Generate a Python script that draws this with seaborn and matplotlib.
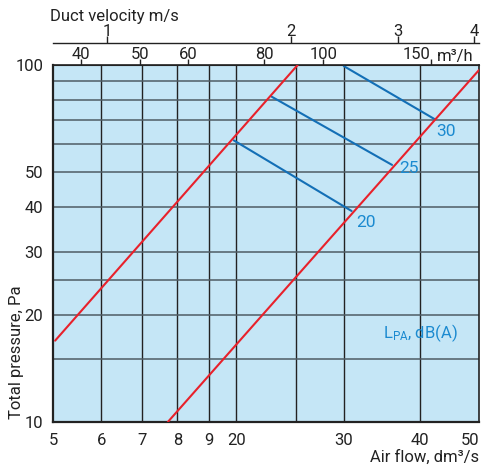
import pandas as pd
import seaborn as sns
import matplotlib
import matplotlib.pyplot as plt
from matplotlib.ticker import NullLocator

# Axis ticks and grid (flow in dm3/s, pressure in Pa)
flow_ticks = [10, 12, 14, 16, 18, 20, 30, 40, 50]
flow_labels = ['5', '6', '7', '8', '9', '20', '30', '40', '50']
pressure_ticks = [10, 20, 30, 40, 50, 100]
pressure_labels = ['10', '20', '30', '40', '50', '100']
flow_grid = [12, 14, 16, 18, 20, 25, 30, 40]
pressure_grid = [15, 20, 25, 30, 40, 50, 60, 70, 80, 90]
m3h_ticks = [40, 50, 60, 80, 100, 150]
velocity_ticks = [1, 2, 3, 4]

# System curves (red)
curve_a_flow = [10.08, 25.2]
curve_a_pressure = [16.9, 100]
curve_b_flow = [15.43, 50]
curve_b_pressure = [10, 96.8]

# Sound level lines LpA (blue)
lpa_levels = ['20', '25', '30']
lpa_flow = [[19.8, 30.9], [22.85, 36.0], [30.0, 42.3]]
lpa_pressure = [[61.5, 39.0], [81.5, 52.5], [99.3, 70.5]]

# Plot style
sns.set_style('white')
plt.rcParams['font.family'] = ['Roboto', 'DejaVu Sans']
plt.rcParams['font.size'] = 12
plt.rcParams['mathtext.fontset'] = 'custom'
plt.rcParams['mathtext.rm'] = 'Roboto'

red = '#e8212b'
blue = '#136fb6'
blue_text = '#1b8ad0'
dark = '#222222'

fig = plt.figure(figsize=(4.85, 4.69), dpi=100)
fig.patch.set_facecolor('white')
ax = fig.add_axes([0.1093, 0.1002, 0.8783, 0.7612])
ax.set_facecolor('#c5e6f6')
ax.set_xscale('log')
ax.set_yscale('log')
ax.set_xlim(10, 50)
ax.set_ylim(10, 100)

# Grid
for q in flow_grid:
    ax.axvline(q, color=dark, lw=1.0, zorder=1)
for p in pressure_grid:
    ax.axhline(p, color='#4f5c64', lw=1.1, zorder=1)

# Red system curves
df_a = pd.DataFrame({'flow': curve_a_flow, 'pressure': curve_a_pressure})
df_b = pd.DataFrame({'flow': curve_b_flow, 'pressure': curve_b_pressure})
sns.lineplot(data=df_a, x='flow', y='pressure', color=red, lw=1.5, ax=ax, zorder=3)
sns.lineplot(data=df_b, x='flow', y='pressure', color=red, lw=1.5, ax=ax, zorder=3)

# Blue sound level lines
offsets = [(5, -12), (7, -4), (2, -12)]
for level, fl, pr, off in zip(lpa_levels, lpa_flow, lpa_pressure, offsets):
    df_l = pd.DataFrame({'flow': fl, 'pressure': pr})
    sns.lineplot(data=df_l, x='flow', y='pressure', color=blue, lw=1.5, ax=ax, zorder=2)
    ax.annotate(level, xy=(fl[1], pr[1]), xytext=off, textcoords='offset pixels',
                color=blue_text, fontsize=12.5, ha='left', va='center')

ax.text(0.775, 0.25, r'$\mathregular{L_{PA}}$, dB(A)', transform=ax.transAxes,
        color=blue_text, fontsize=12, ha='left', va='center')

# Main ticks
ax.set_xticks(flow_ticks, labels=flow_labels)
ax.set_yticks(pressure_ticks, labels=pressure_labels)
ax.xaxis.set_minor_locator(NullLocator())
ax.yaxis.set_minor_locator(NullLocator())
ax.tick_params(axis='both', direction='out', length=5, width=1.2, color=dark, labelcolor=dark)
ax.tick_params(axis='x', pad=3)
ax.tick_params(axis='y', pad=2)
ax.get_xticklabels()[-1].set_horizontalalignment('right')
for s in ax.spines.values():
    s.set_color(dark)
    s.set_linewidth(1.2)
ax.spines['left'].set_linewidth(1.6)
ax.spines['bottom'].set_linewidth(1.6)

ax.set_xlabel('Air flow, dm³/s', loc='right', labelpad=1, color=dark)
ax.set_ylabel('')
fig.text(16 / 485, 1 - 419 / 469, 'Total pressure, Pa', rotation=90, rotation_mode='anchor',
         ha='left', va='center', color=dark)

# m3/h axis on top
sec_m3h = ax.secondary_xaxis('top', functions=(lambda q: q * 3.6, lambda m: m / 3.6))
sec_m3h.set_xticks(m3h_ticks, labels=[str(t) for t in m3h_ticks])
sec_m3h.xaxis.set_minor_locator(NullLocator())
sec_m3h.tick_params(direction='out', length=4, width=1.0, color=dark, pad=-2, labelcolor=dark)
sec_m3h.spines['top'].set_color(dark)
for lab in sec_m3h.get_xticklabels():
    if lab.get_text() == '150':
        lab.set_horizontalalignment('right')
ax.annotate('m³/h', xy=(150 / 3.6, 1.0), xycoords=('data', 'axes fraction'),
            xytext=(6, 1), textcoords='offset pixels', ha='left', va='bottom', color=dark)

# Duct velocity axis
sec_vel = ax.secondary_xaxis(1.0616, functions=(lambda q: q / 12.27, lambda v: v * 12.27))
sec_vel.set_xticks(velocity_ticks, labels=[str(t) for t in velocity_ticks])
sec_vel.xaxis.set_minor_locator(NullLocator())
sec_vel.tick_params(direction='out', length=5, width=1.0, color=dark, pad=-2, labelcolor=dark)
sec_vel.spines['top'].set_color(dark)
sec_vel.spines['top'].set_linewidth(1.0)

fig.text(50 / 485, 1 - 16 / 469, 'Duct velocity m/s', ha='left', va='center', color=dark)

plt.savefig('out.png', dpi=100)
